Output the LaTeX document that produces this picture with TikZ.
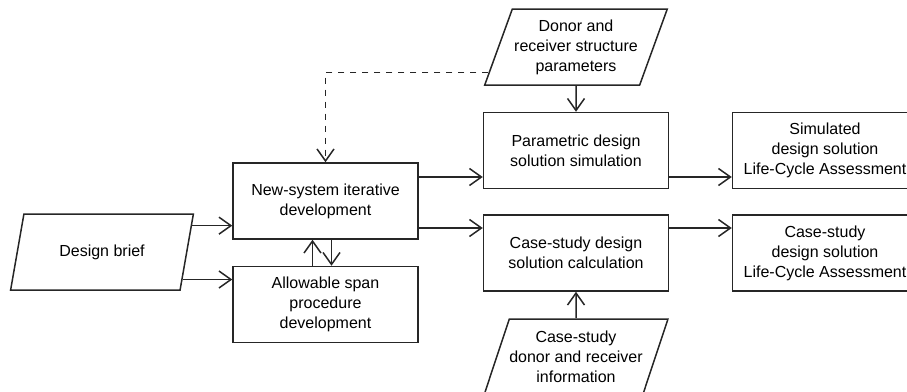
\documentclass[tikz,border=0pt]{standalone}
\usepackage{fontspec}
\setmainfont{Liberation Sans}
\usetikzlibrary{positioning,calc,arrows.meta,shapes.geometric}

\begin{document}
\begin{tikzpicture}[x=1pt, y=-1pt, on grid, line width=1.5pt,
    >={Straight Barb[length=12pt,width=17pt]},
    font=\fontsize{16}{20}\selectfont,
    proc/.style={draw=black!85, rectangle, align=center, inner sep=0pt,
      minimum width=185pt, minimum height=76pt},
    data/.style={draw=black!85, trapezium, trapezium left angle=64,
      trapezium right angle=116, trapezium stretches=true, align=center,
      inner sep=0pt, minimum width=183pt, minimum height=76pt},
    flow/.style={->, draw=black!85},
    hint/.style={flow, dash pattern=on 6pt off 6pt}]
    \useasboundingbox (0,0) rectangle (907,391);%
    \clip (0,0) rectangle (907,391);%
    \node[data] (brief) at (102,252) {Design brief};%
    \node[proc] (newsys) [above right=51pt and 223.5pt of brief] {New-system iterative\\development};%
    \node[proc] (span) [below=103.5pt of newsys] {Allowable span\\procedure\\development};%
    \node[proc] (param) [above right=50.5pt and 250.5pt of newsys] {Parametric design\\solution simulation};%
    \node[proc] (calc) [below=102.5pt of param] {Case-study design\\solution calculation};%
    \node[data] (donor) [above=103.5pt of param] {Donor and\\receiver structure\\parameters};%
    \node[data] (cdonor) [below=104pt of calc] {Case-study\\donor and receiver\\information};%
    \node[proc] (simlca) [right=249pt of param] {Simulated\\design solution\\Life-Cycle Assessment};%
    \node[proc] (caselca) [right=249pt of calc] {Case-study\\design solution\\Life-Cycle Assessment};%
    % points on the edges
    \coordinate (b-up) at ($(brief.bottom right corner)!0.84!(brief.top right corner)$);%
    \coordinate (b-low) at ($(brief.bottom right corner)!0.145!(brief.top right corner)$);%
    \coordinate (d-left) at ($(donor.bottom left corner)!0.17!(donor.top left corner)$);%
    \coordinate (p-in) at ([yshift=-26.5pt]param.west);%
    \coordinate (p-out) at ([yshift=-26.5pt]param.east);%
    \coordinate (c-in) at ([yshift=25pt]calc.west);%
    \coordinate (c-out) at ([yshift=25pt]calc.east);%
    \draw[flow] (b-up) -- (newsys.west |- b-up);%
    \draw[flow] (b-low) -- (span.west |- b-low);%
    \draw[flow] ([xshift=-13pt]span.north) -- ([xshift=-13pt]newsys.south);%
    \draw[flow] ([xshift=6pt]newsys.south) -- ([xshift=6pt]span.north);%
    \draw[flow] (newsys.east |- p-in) -- (p-in);%
    \draw[flow] (newsys.east |- c-in) -- (c-in);%
    \draw[flow] (donor.south) -- (param.north);%
    \draw[flow] (cdonor.north) -- (calc.south);%
    \draw[flow] (p-out) -- (simlca.west |- p-out);%
    \draw[flow] (c-out) -- (caselca.west |- c-out);%
    \draw[hint] (d-left) -| (newsys.north);%
\end{tikzpicture}
\end{document}
